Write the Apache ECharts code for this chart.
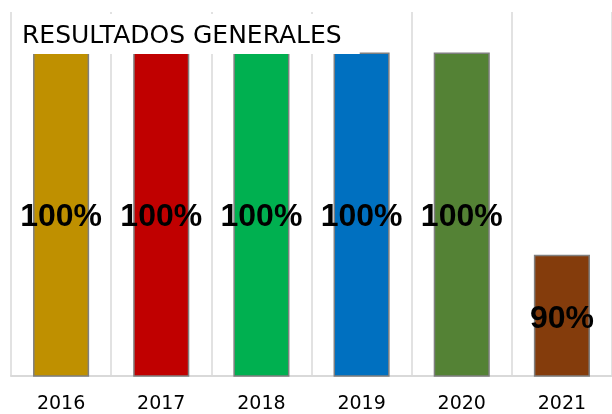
<!doctype html>
<html lang="es">
<head>
    <meta charset="UTF-8">
    <title>Resultados generales</title>
    <script src="https://cdn.jsdelivr.net/npm/echarts@6.0.0/dist/echarts.min.js"></script>
    <style>
        html, body { margin: 0; padding: 0; background: #fff; }
        #chart { width: 612px; height: 414px; }
    </style>
</head>
<body>
<div id="chart"></div>
<script>
    // datos
    const years = ['2016', '2017', '2018', '2019', '2020', '2021'];
    const values = [100, 100, 100, 100, 100, 90];
    const barColors = ['#BF9000', '#C00000', '#00B050', '#0070C0', '#548235', '#843C0C'];

    const seriesData = values.map((v, i) => ({
        value: v,
        itemStyle: { color: barColors[i] }
    }));

    const myChart = echarts.init(document.getElementById('chart'));
    const option = {
        animation: false,
        title: {
            text: 'RESULTADOS GENERALES',
            left: 12,
            top: 14,
            padding: [10, 18, 5, 10],
            backgroundColor: '#fff',
            textStyle: {
                fontFamily: 'DejaVu Sans',
                fontSize: 25,
                fontWeight: 'normal',
                color: '#000'
            }
        },
        grid: { left: 11, right: -5, top: 12, bottom: 37 },
        xAxis: {
            type: 'category',
            data: years,
            axisLine: { lineStyle: { color: '#d9d9d9', width: 2 } },
            axisTick: { show: false },
            splitLine: { show: true, lineStyle: { color: '#d9d9d9', width: 1.5 } },
            axisLabel: {
                fontFamily: 'DejaVu Sans',
                fontSize: 19,
                color: '#000',
                margin: 19
            }
        },
        yAxis: {
            type: 'value',
            min: 84,
            max: 102,
            show: false,
            splitLine: { show: false }
        },
        series: [
            {
                type: 'bar',
                data: seriesData,
                barWidth: '56%',
                z: 1,
                itemStyle: { borderColor: '#7f7f7f', borderWidth: 1.5 },
                label: {
                    show: true,
                    position: 'inside',
                    offset: [0, 3],
                    formatter: p => p.value + '%',
                    fontFamily: 'Liberation Sans',
                    fontWeight: 'bold',
                    fontSize: 32,
                    color: '#000'
                }
            }
        ]
    };
    myChart.setOption(option);
</script>
</body>
</html>
